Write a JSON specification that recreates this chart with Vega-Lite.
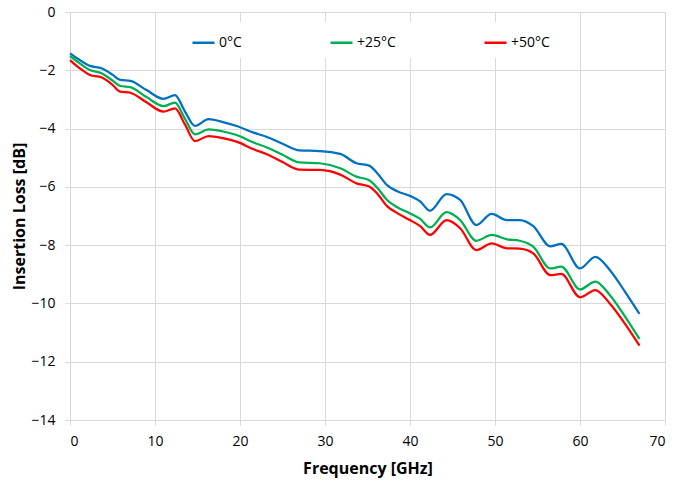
{
  "$schema": "https://vega.github.io/schema/vega-lite/v6.json",
  "width": 595,
  "height": 408,
  "autosize": {"type": "none"},
  "padding": {"left": 70, "top": 12, "right": 10, "bottom": 66},
  "background": "white",
  "config": {
    "view": {"stroke": null},
    "font": "Open Sans",
    "axis": {
      "gridColor": "#d9d9d9",
      "gridWidth": 1,
      "domain": false,
      "tickColor": "#d9d9d9",
      "tickSize": 5,
      "labelFont": "Open Sans",
      "labelFontSize": 14,
      "labelColor": "#000000",
      "titleFont": "Open Sans",
      "titleFontSize": 16,
      "titleFontWeight": "bold",
      "titleColor": "#000000"
    }
  },
  "data": {
    "values": [
      {"f": 0, "0°C": -1.42, "+25°C": -1.51, "+50°C": -1.65},
      {"f": 1, "0°C": -1.62, "+25°C": -1.73, "+50°C": -1.9},
      {"f": 2.35, "0°C": -1.85, "+25°C": -1.99, "+50°C": -2.16},
      {"f": 3.7, "0°C": -1.93, "+25°C": -2.1, "+50°C": -2.24},
      {"f": 5, "0°C": -2.15, "+25°C": -2.35, "+50°C": -2.5},
      {"f": 5.9, "0°C": -2.33, "+25°C": -2.54, "+50°C": -2.73},
      {"f": 7.1, "0°C": -2.36, "+25°C": -2.58, "+50°C": -2.77},
      {"f": 9, "0°C": -2.68, "+25°C": -2.92, "+50°C": -3.1},
      {"f": 11, "0°C": -2.98, "+25°C": -3.23, "+50°C": -3.42},
      {"f": 12.35, "0°C": -2.85, "+25°C": -3.11, "+50°C": -3.31},
      {"f": 13.5, "0°C": -3.4, "+25°C": -3.65, "+50°C": -3.85},
      {"f": 14.7, "0°C": -3.91, "+25°C": -4.2, "+50°C": -4.43},
      {"f": 16.3, "0°C": -3.68, "+25°C": -4.03, "+50°C": -4.26},
      {"f": 18, "0°C": -3.78, "+25°C": -4.1, "+50°C": -4.33},
      {"f": 19.6, "0°C": -3.91, "+25°C": -4.22, "+50°C": -4.45},
      {"f": 21.6, "0°C": -4.14, "+25°C": -4.48, "+50°C": -4.71},
      {"f": 23.1, "0°C": -4.28, "+25°C": -4.64, "+50°C": -4.87},
      {"f": 25, "0°C": -4.52, "+25°C": -4.9, "+50°C": -5.15},
      {"f": 27, "0°C": -4.75, "+25°C": -5.16, "+50°C": -5.41},
      {"f": 29.4, "0°C": -4.77, "+25°C": -5.19, "+50°C": -5.42},
      {"f": 31.8, "0°C": -4.87, "+25°C": -5.36, "+50°C": -5.58},
      {"f": 33.7, "0°C": -5.19, "+25°C": -5.65, "+50°C": -5.88},
      {"f": 35.2, "0°C": -5.27, "+25°C": -5.77, "+50°C": -5.99},
      {"f": 36.2, "0°C": -5.55, "+25°C": -6.05, "+50°C": -6.25},
      {"f": 37.3, "0°C": -5.94, "+25°C": -6.45, "+50°C": -6.66},
      {"f": 38.5, "0°C": -6.15, "+25°C": -6.7, "+50°C": -6.9},
      {"f": 40, "0°C": -6.31, "+25°C": -6.91, "+50°C": -7.14},
      {"f": 41.2, "0°C": -6.5, "+25°C": -7.1, "+50°C": -7.35},
      {"f": 42.35, "0°C": -6.82, "+25°C": -7.39, "+50°C": -7.65},
      {"f": 44.3, "0°C": -6.25, "+25°C": -6.87, "+50°C": -7.14},
      {"f": 45.9, "0°C": -6.45, "+25°C": -7.14, "+50°C": -7.42},
      {"f": 47.8, "0°C": -7.31, "+25°C": -7.85, "+50°C": -8.17},
      {"f": 49.6, "0°C": -6.93, "+25°C": -7.65, "+50°C": -7.94},
      {"f": 51.4, "0°C": -7.14, "+25°C": -7.8, "+50°C": -8.11},
      {"f": 52.9, "0°C": -7.14, "+25°C": -7.85, "+50°C": -8.12},
      {"f": 54.5, "0°C": -7.35, "+25°C": -8.05, "+50°C": -8.28},
      {"f": 56.5, "0°C": -8.04, "+25°C": -8.8, "+50°C": -9.03},
      {"f": 57.8, "0°C": -7.96, "+25°C": -8.74, "+50°C": -8.99},
      {"f": 60, "0°C": -8.8, "+25°C": -9.52, "+50°C": -9.79},
      {"f": 61.8, "0°C": -8.4, "+25°C": -9.25, "+50°C": -9.54},
      {"f": 63.5, "0°C": -8.85, "+25°C": -9.71, "+50°C": -10.0},
      {"f": 65.3, "0°C": -9.6, "+25°C": -10.45, "+50°C": -10.7},
      {"f": 67, "0°C": -10.36, "+25°C": -11.22, "+50°C": -11.45}
    ]
  },
  "transform": [
    {"fold": ["0°C", "+25°C", "+50°C"], "as": ["series", "loss"]}
  ],
  "mark": {"type": "line", "interpolate": "monotone", "strokeWidth": 2.25},
  "encoding": {
    "x": {
      "field": "f",
      "type": "quantitative",
      "title": "Frequency [GHz]",
      "scale": {"domain": [0, 70], "nice": false},
      "axis": {"values": [0, 10, 20, 30, 40, 50, 60, 70], "labelPadding": 9, "titlePadding": 12}
    },
    "y": {
      "field": "loss",
      "type": "quantitative",
      "title": "Insertion Loss [dB]",
      "scale": {"domain": [-14, 0], "nice": false},
      "axis": {"values": [-14, -12, -10, -8, -6, -4, -2, 0], "labelPadding": 10, "titlePadding": 3}
    },
    "color": {
      "field": "series",
      "type": "nominal",
      "sort": ["0°C", "+25°C", "+50°C"],
      "scale": {"domain": ["0°C", "+25°C", "+50°C"], "range": ["#0070C0", "#00B050", "#FF0000"]},
      "legend": {
        "title": null,
        "orient": "none",
        "legendX": 113,
        "legendY": 10,
        "direction": "horizontal",
        "fillColor": "white",
        "padding": 8,
        "symbolType": "stroke",
        "symbolSize": 484,
        "symbolStrokeWidth": 2.5,
        "labelOffset": 3,
        "labelFontSize": 14,
        "labelFont": "Open Sans",
        "labelColor": "#000000",
        "columnPadding": 83
      }
    }
  }
}
